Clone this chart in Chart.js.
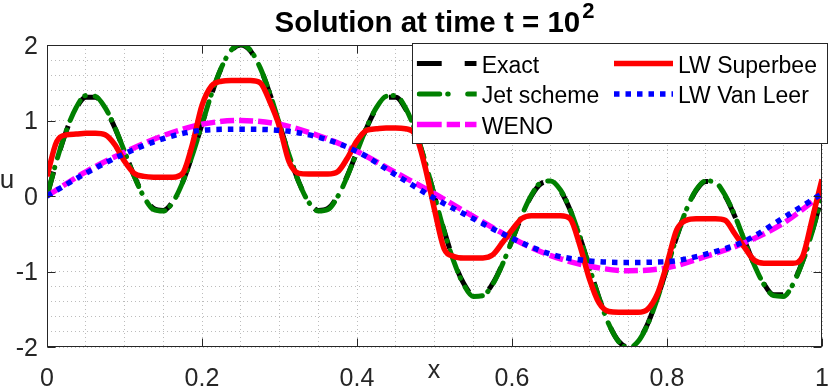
<!DOCTYPE html>
<html>
<head>
<meta charset="utf-8">
<title>Solution at time t = 10^2</title>
<script src="https://cdn.jsdelivr.net/npm/chart.js@4.4.1/dist/chart.umd.min.js"></script>
<style>
  html, body { margin: 0; padding: 0; background: #ffffff; }
  #wrap { width: 830px; height: 386px; }
</style>
</head>
<body>
<div id="wrap"><canvas id="solution-chart" width="830" height="386"></canvas></div>
<script>
// x grid for the oscillating curves (step 1/80)
const xFine = [
  0, 0.0125, 0.025, 0.0375, 0.05, 0.0625, 0.075, 0.0875, 0.1, 0.1125,
  0.125, 0.1375, 0.15, 0.1625, 0.175, 0.1875, 0.2, 0.2125, 0.225, 0.2375,
  0.25, 0.2625, 0.275, 0.2875, 0.3, 0.3125, 0.325, 0.3375, 0.35, 0.3625,
  0.375, 0.3875, 0.4, 0.4125, 0.425, 0.4375, 0.45, 0.4625, 0.475, 0.4875,
  0.5, 0.5125, 0.525, 0.5375, 0.55, 0.5625, 0.575, 0.5875, 0.6, 0.6125,
  0.625, 0.6375, 0.65, 0.6625, 0.675, 0.6875, 0.7, 0.7125, 0.725, 0.7375,
  0.75, 0.7625, 0.775, 0.7875, 0.8, 0.8125, 0.825, 0.8375, 0.85, 0.8625,
  0.875, 0.8875, 0.9, 0.9125, 0.925, 0.9375, 0.95, 0.9625, 0.975, 0.9875,
  1
];

// x grid for the smooth (diffused) curves
const xCoarse = [
  0, 0.05, 0.1, 0.15, 0.2, 0.25, 0.3, 0.35, 0.4, 0.45,
  0.5, 0.55, 0.6, 0.65, 0.7, 0.75, 0.8, 0.85, 0.9, 0.95, 1
];

const exactU = [
  0, 0.461, 0.864, 1.157, 1.309, 1.307, 1.161, 0.905, 0.588, 0.267,
  0, -0.164, -0.191, -0.071, 0.184, 0.541, 0.951, 1.355, 1.695, 1.921,
  2, 1.921, 1.695, 1.355, 0.951, 0.541, 0.184, -0.071, -0.191, -0.164,
  0, 0.267, 0.588, 0.905, 1.161, 1.307, 1.309, 1.157, 0.864, 0.461,
  0, -0.461, -0.864, -1.157, -1.309, -1.307, -1.161, -0.905, -0.588, -0.267,
  0, 0.164, 0.191, 0.071, -0.184, -0.541, -0.951, -1.355, -1.695, -1.921,
  -2, -1.921, -1.695, -1.355, -0.951, -0.541, -0.184, 0.071, 0.191, 0.164,
  0, -0.267, -0.588, -0.905, -1.161, -1.307, -1.309, -1.157, -0.864, -0.461,
  0
];

const jetU = [
  0, 0.47, 0.87, 1.17, 1.33, 1.32, 1.17, 0.91, 0.59, 0.26,
  -0.01, -0.18, -0.20, -0.08, 0.18, 0.54, 0.95, 1.36, 1.70, 1.93,
  2.01, 1.93, 1.70, 1.36, 0.95, 0.54, 0.18, -0.08, -0.20, -0.18,
  -0.01, 0.26, 0.59, 0.91, 1.17, 1.32, 1.33, 1.17, 0.87, 0.47,
  0, -0.47, -0.87, -1.17, -1.33, -1.32, -1.17, -0.91, -0.59, -0.26,
  0.01, 0.18, 0.20, 0.08, -0.18, -0.54, -0.95, -1.36, -1.70, -1.93,
  -2.01, -1.93, -1.70, -1.36, -0.95, -0.54, -0.18, 0.08, 0.20, 0.18,
  0.01, -0.26, -0.59, -0.91, -1.17, -1.32, -1.33, -1.17, -0.87, -0.47,
  0
];

const superbeeU = [
  0.26, 0.72, 0.81, 0.82, 0.83, 0.83, 0.81, 0.68, 0.46, 0.30,
  0.26, 0.25, 0.25, 0.25, 0.30, 0.68, 1.20, 1.46, 1.52, 1.53,
  1.53, 1.53, 1.50, 1.25, 0.92, 0.45, 0.30, 0.29, 0.29, 0.29,
  0.32, 0.50, 0.73, 0.87, 0.89, 0.90, 0.90, 0.89, 0.82, 0.40,
  -0.18, -0.70, -0.80, -0.82, -0.82, -0.82, -0.78, -0.62, -0.45, -0.30,
  -0.26, -0.26, -0.26, -0.26, -0.30, -0.65, -1.10, -1.42, -1.53, -1.54,
  -1.54, -1.54, -1.50, -1.30, -0.90, -0.45, -0.32, -0.30, -0.30, -0.30,
  -0.32, -0.50, -0.68, -0.85, -0.89, -0.89, -0.89, -0.89, -0.80, -0.30,
  0.22
];

const wenoU = [
  0, 0.32, 0.58, 0.80, 0.95, 1.00, 0.95, 0.80, 0.59, 0.31,
  0.03, -0.27, -0.56, -0.79, -0.93, -0.99, -0.95, -0.80, -0.62, -0.36, 0.02
];

const vanLeerU = [
  0, 0.30, 0.56, 0.76, 0.87, 0.885, 0.87, 0.78, 0.59, 0.28,
  -0.03, -0.30, -0.56, -0.77, -0.86, -0.88, -0.87, -0.77, -0.60, -0.29, 0.03
];

const xTickLabels = ['0', '0.2', '0.4', '0.6', '0.8', '1'];
const yTickLabels = ['-2', '-1', '0', '1', '2'];

const AXIS_COLOR = '#262626';
const GRID_COLOR = '#bcbcbc';
const FONT = '"Liberation Sans", Arial, Helvetica, sans-serif';

function toPoints(xs, ys) {
    return xs.map((x, i) => ({ x: x, y: ys[i] }));
}

// legend slot (column, row) for each dataset, same order as datasets
const legendSlots = [[0, 0], [0, 1], [0, 2], [1, 0], [1, 1]];

// frame, inward ticks, tick labels, axis labels and title
const decorPlugin = {
    id: 'decor',
    afterDatasetsDraw(chart) {
        const { ctx, chartArea: a, scales: { x, y } } = chart;
        const left = Math.round(a.left) + 0.5;
        const right = Math.round(a.right) - 0.5;
        const top = Math.round(a.top) + 0.5;
        const bottom = Math.round(a.bottom) - 0.5;

        ctx.save();
        ctx.strokeStyle = AXIS_COLOR;
        ctx.lineWidth = 1;
        ctx.strokeRect(left, top, right - left, bottom - top);

        // inward tick marks
        ctx.beginPath();
        xTickLabels.forEach(t => {
            const px = Math.round(x.getPixelForValue(parseFloat(t))) + 0.5;
            ctx.moveTo(px, bottom); ctx.lineTo(px, bottom - 8);
            ctx.moveTo(px, top); ctx.lineTo(px, top + 8);
        });
        yTickLabels.forEach(t => {
            const py = Math.round(y.getPixelForValue(parseFloat(t))) + 0.5;
            ctx.moveTo(left, py); ctx.lineTo(left + 8, py);
            ctx.moveTo(right, py); ctx.lineTo(right - 8, py);
        });
        ctx.stroke();

        // tick labels
        ctx.fillStyle = AXIS_COLOR;
        ctx.font = '25px ' + FONT;
        ctx.textAlign = 'center';
        ctx.textBaseline = 'alphabetic';
        xTickLabels.forEach(t => {
            ctx.fillText(t, x.getPixelForValue(parseFloat(t)), 386);
        });
        ctx.textAlign = 'right';
        ctx.textBaseline = 'middle';
        yTickLabels.forEach(t => {
            ctx.fillText(t, a.left - 9, y.getPixelForValue(parseFloat(t)) + 2);
        });

        // axis labels
        ctx.textAlign = 'center';
        ctx.textBaseline = 'alphabetic';
        ctx.fillText('x', 434, 378);
        ctx.font = '26px ' + FONT;
        ctx.fillText('u', 7, 188);

        // title with superscript
        ctx.fillStyle = '#000000';
        const base = 'Solution at time t = 10';
        ctx.font = 'bold 29.5px ' + FONT;
        const wBase = ctx.measureText(base).width;
        ctx.font = 'bold 22px ' + FONT;
        const wSup = ctx.measureText('2').width;
        const x0 = (a.left + a.right) / 2 - (wBase + wSup + 2) / 2;
        ctx.textAlign = 'left';
        ctx.font = 'bold 29.5px ' + FONT;
        ctx.fillText(base, x0, 32);
        ctx.font = 'bold 22px ' + FONT;
        ctx.fillText('2', x0 + wBase + 2, 18);
        ctx.restore();
    }
};

// two-column legend box in the upper right
const legendPlugin = {
    id: 'twoColLegend',
    afterDraw(chart) {
        const ctx = chart.ctx;
        const box = { left: 412.5, top: 43.5, right: 827.5, bottom: 143.5 };
        const colSample = [416.7, 614];
        const sampleLen = [60, 59];
        const rowY = [63.5, 94, 124.5];
        // dash used for the short legend samples (plot dashes differ slightly)
        const sampleDash = [[25, 23], [20.5, 8, 0.5, 19.5], [25, 5, 13.3, 5], null, [5.5, 6]];

        ctx.save();
        ctx.fillStyle = '#ffffff';
        ctx.fillRect(box.left, box.top, box.right - box.left, box.bottom - box.top);
        ctx.strokeStyle = AXIS_COLOR;
        ctx.lineWidth = 1;
        ctx.strokeRect(box.left, box.top, box.right - box.left, box.bottom - box.top);

        chart.data.datasets.forEach((ds, i) => {
            const [col, row] = legendSlots[i];
            const sx = colSample[col];
            const sy = rowY[row];
            const cap = ds.borderCapStyle || 'butt';
            const off = cap === 'round' ? ds.borderWidth / 2 : 0;

            ctx.save();
            ctx.beginPath();
            ctx.rect(sx, sy - 6, sampleLen[col], 12);
            ctx.clip();
            ctx.strokeStyle = ds.borderColor;
            ctx.lineWidth = ds.borderWidth;
            ctx.lineCap = cap;
            ctx.setLineDash(sampleDash[i] || []);
            ctx.beginPath();
            ctx.moveTo(sx + off, sy);
            ctx.lineTo(sx + sampleLen[col], sy);
            ctx.stroke();
            ctx.restore();

            ctx.fillStyle = '#000000';
            ctx.font = '23px ' + FONT;
            ctx.textAlign = 'left';
            ctx.textBaseline = 'alphabetic';
            ctx.fillText(ds.label, sx + sampleLen[col] + 5, sy + 9);
        });
        ctx.restore();
    }
};

const chart = new Chart(document.getElementById('solution-chart'), {
    type: 'line',
    data: {
        datasets: [
            {
                label: 'Exact',
                data: toPoints(xFine, exactU),
                borderColor: '#000000',
                borderWidth: 5,
                borderDash: [25, 23],
                order: 5
            },
            {
                label: 'Jet scheme',
                data: toPoints(xFine, jetU),
                borderColor: '#008000',
                borderWidth: 5,
                borderDash: [22, 7, 0.5, 10],
                borderCapStyle: 'round',
                order: 4
            },
            {
                label: 'WENO',
                data: toPoints(xCoarse, wenoU),
                borderColor: '#ff00ff',
                borderWidth: 5.5,
                borderDash: [14, 5],
                order: 3
            },
            {
                label: 'LW Superbee',
                data: toPoints(xFine, superbeeU),
                borderColor: '#ff0000',
                borderWidth: 5.5,
                order: 2
            },
            {
                label: 'LW Van Leer',
                data: toPoints(xCoarse, vanLeerU),
                borderColor: '#0000ff',
                borderWidth: 5.5,
                borderDash: [5.5, 6],
                order: 1
            }
        ]
    },
    options: {
        responsive: false,
        animation: false,
        devicePixelRatio: 1,
        layout: { padding: { left: 47, right: 8, top: 45, bottom: 39 } },
        elements: {
            point: { radius: 0 },
            line: { fill: false, cubicInterpolationMode: 'monotone' }
        },
        plugins: {
            legend: { display: false },
            title: { display: false },
            tooltip: { enabled: false }
        },
        scales: {
            x: {
                type: 'linear',
                min: 0,
                max: 1,
                ticks: { display: false, stepSize: 0.05 },
                grid: { color: GRID_COLOR, lineWidth: 1, drawTicks: false },
                border: { display: false, dash: [1, 3] }
            },
            y: {
                type: 'linear',
                min: -2,
                max: 2,
                ticks: { display: false, stepSize: 0.2 },
                grid: { color: GRID_COLOR, lineWidth: 1, drawTicks: false },
                border: { display: false, dash: [1, 3] }
            }
        }
    },
    plugins: [decorPlugin, legendPlugin]
});
</script>
</body>
</html>
